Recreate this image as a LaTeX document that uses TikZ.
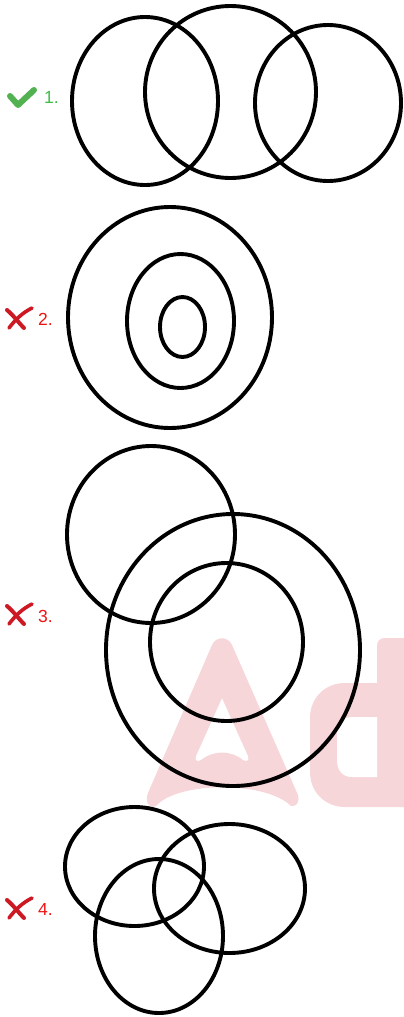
\documentclass[tikz,border=0pt]{standalone}
\usepackage{fontspec}
\setmainfont{Liberation Sans}
\definecolor{okgreen}{RGB}{82,178,82}
\definecolor{labgreen}{RGB}{60,190,70}
\definecolor{labred}{RGB}{238,20,20}
\definecolor{xred}{RGB}{205,25,35}
\definecolor{wmpink}{RGB}{247,214,218}
\begin{document}
\begin{tikzpicture}[x=1pt,y=-1pt,
  ring/.style={draw=black,line width=3.9pt},
  lab/.style={anchor=base west,inner sep=0pt,font=\fontsize{17.5}{20}\selectfont},
  xmark/.pic={
    \draw[xred,line width=4pt,line cap=round] (-11,-8) .. controls (-4,-2) and (0,4) .. (6,10);
    \draw[xred,line width=3.6pt,line cap=round] (14,-10) .. controls (4,-5) and (-3,2) .. (-9,10);
  }]
\useasboundingbox (0,0) rectangle (404,1017);
% watermark
\fill[wmpink,even odd rule]
  (150,806) .. controls (146,803) and (146,798) .. (148,793) -- (212,645)
  .. controls (216,636) and (228,636) .. (232,645) -- (298,795)
  .. controls (300,801) and (297,807) .. (291,806)
  .. controls (266,781) and (178,781) .. (156,806)
  .. controls (154,807) and (152,807) .. (150,806) -- cycle
  (222,698) -- (196,756) .. controls (194,761) and (198,762) .. (201,760)
  .. controls (214,750) and (230,750) .. (243,760)
  .. controls (246,762) and (250,761) .. (248,756) -- cycle;
\fill[wmpink] (377,807) -- (377,646) .. controls (377,641) and (380,638) .. (385,638) -- (404,638) -- (404,807) -- cycle;
\fill[wmpink] (377,683) -- (345,683) .. controls (325,683) and (310,698) .. (310,718) -- (310,772)
  .. controls (310,792) and (325,807) .. (345,807) -- (377,807) -- cycle;
\fill[white] (377,717) -- (352,717) .. controls (343,717) and (337,724) .. (337,735) -- (337,760)
  .. controls (337,771) and (343,777) .. (352,777) -- (377,777) -- cycle;
% group 1
\draw[ring] (145,101) ellipse [x radius=73, y radius=84];
\draw[ring] (230.5,92) ellipse [x radius=85.5, y radius=86];
\draw[ring] (328,103) ellipse [x radius=73, y radius=78];
% group 2
\draw[ring] (170,317.5) ellipse [x radius=102, y radius=110.5];
\draw[ring] (180.5,321) ellipse [x radius=53.5, y radius=67];
\draw[ring] (182.5,327) ellipse [x radius=22.5, y radius=30];
% group 3
\draw[ring] (151,534.5) ellipse [x radius=84, y radius=88.5];
\draw[ring] (233,650) ellipse [x radius=127, y radius=136];
\draw[ring] (226.5,642) ellipse [x radius=76.5, y radius=79];
% group 4
\draw[ring] (134.5,866.5) ellipse [x radius=69.5, y radius=59.5];
\draw[ring] (229.5,888.5) ellipse [x radius=75.5, y radius=64.5];
\draw[ring] (159,936) ellipse [x radius=64, y radius=77];
% marks and labels
\draw[okgreen,line width=6pt,line cap=round,line join=round] (10,96) -- (18,105) -- (34,90);
\node[lab,text=labgreen] (l1) at (44,103) {1.};
\pic at (18,318) {xmark};
\node[lab,text=labred] (l2) at (38,325) {2.};
\pic at (18,614) {xmark};
\node[lab,text=labred] (l3) at (38,622) {3.};
\pic at (18,908) {xmark};
\node[lab,text=labred] (l4) at (38,915) {4.};
\end{tikzpicture}
\end{document}
